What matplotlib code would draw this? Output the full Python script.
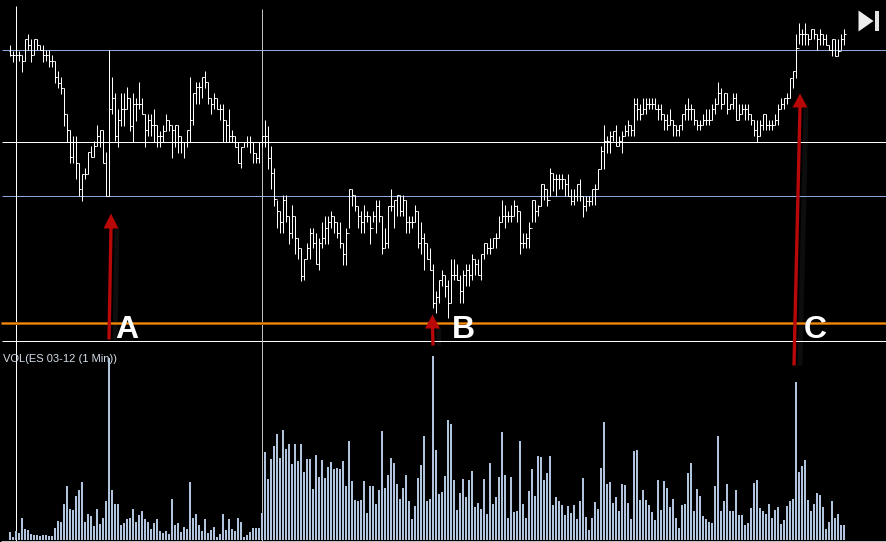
import matplotlib
matplotlib.use("Agg")
import matplotlib.pyplot as plt
from matplotlib.patches import Polygon

# Bar readings, on the chart's downward price scale (smaller value = higher on the chart)
high = [
44,50,50,50,54,38,33,38,38,38,44,44,49,49,54,60,70,76,87,113,
129,135,135,162,173,167,151,145,140,124,129,129,151,49,76,92,108,92,92,86,
97,92,97,81,97,113,113,113,108,124,130,124,113,119,124,124,124,135,141,129,
76,92,81,81,76,70,81,97,92,97,103,103,119,108,129,135,141,146,141,135,
135,141,152,141,135,119,125,145,167,
199,210,194,194,215,204,215,237,247,258,242,227,227,232,237,221,215,215,210,215,
221,221,242,227,188,188,194,205,210,204,210,215,210,199,199,215,227,205,188,199,
194,194,194,199,215,215,204,210,221,232,242,247,263,290,279,269,274,279,258,258,
263,274,269,263,263,253,258,258,253,242,242,237,237,232,215,199,204,210,204,199,
204,210,232,232,221,199,199,204,183,183,188,
167,172,173,173,173,178,173,188,188,183,178,195,195,195,188,183,168,145,124,135,
130,130,124,135,130,124,119,124,97,97,103,97,97,97,97,97,103,103,113,113,
108,119,124,124,113,103,97,103,108,119,119,113,108,108,103,97,81,87,92,92,
103,92,92,103,103,103,103,113,119,119,119,113,113,119,119,113,103,97,97,92,
77,70,33,22,28,22,33,28,28,33,28,33,33,44,38,38,38,33,28]

low = [
55,61,56,60,71,60,49,61,54,49,49,61,60,66,66,82,87,93,125,141,
162,162,178,195,200,178,173,156,156,145,146,162,195,195,113,140,146,125,125,108,
130,141,120,108,113,146,135,135,141,146,146,141,130,130,157,146,152,152,157,146,
141,124,103,103,97,87,103,113,108,108,119,141,141,141,141,146,162,167,146,146,
152,162,162,162,146,146,168,188,205,
227,232,232,221,243,237,253,258,280,279,258,258,247,263,269,247,243,243,227,232,
237,247,264,264,227,205,210,227,232,232,221,243,221,232,221,253,247,247,210,227,
215,215,215,232,232,227,221,247,253,269,258,269,307,312,302,285,296,317,302,279,
279,302,302,285,285,279,274,274,279,258,253,253,247,247,237,221,227,221,221,215,
221,253,247,247,247,221,221,215,205,199,205,
195,190,195,188,188,195,195,204,204,200,200,216,210,205,204,204,188,168,168,152,
152,140,145,145,152,135,135,135,135,119,119,113,113,108,108,108,119,119,129,129,
124,135,135,135,129,119,119,119,124,129,129,124,124,124,119,113,103,108,103,113,
108,108,119,119,113,119,119,124,135,141,135,129,129,129,129,124,124,108,108,103,
97,87,77,43,44,44,44,38,38,49,44,44,44,49,55,55,55,49,44]

close = [
54,54,54,54,60,38,44,54,38,44,49,54,54,60,60,76,82,87,113,129,
156,141,162,188,173,173,151,156,145,135,129,162,195,108,97,135,119,108,108,97,
125,103,103,103,113,129,119,124,124,135,135,130,119,124,129,124,135,141,141,129,
119,92,86,86,76,81,97,103,97,108,108,119,124,135,135,146,162,146,141,141,
141,152,157,141,135,135,157,172,198,
210,221,199,215,232,215,237,247,275,258,247,232,242,263,242,237,227,221,215,221,
232,242,253,232,188,194,205,215,221,215,215,227,215,205,215,247,242,205,205,199,
194,210,199,221,221,221,210,242,237,242,258,269,302,296,279,274,285,302,274,274,
279,290,274,269,274,258,263,274,253,242,247,247,237,237,221,215,215,215,215,205,
210,242,242,237,227,199,210,205,183,188,199,
172,178,178,178,178,183,195,200,195,183,195,205,200,200,188,188,168,150,140,140,
135,130,145,140,135,130,124,129,103,108,113,108,103,103,103,108,108,113,119,124,
119,124,129,124,113,108,108,108,119,124,124,119,119,119,108,103,92,103,92,108,
103,97,119,113,108,108,113,119,129,135,124,113,124,124,124,119,108,103,97,97,
77,70,47,33,33,33,38,28,33,38,33,38,44,49,38,55,50,38,33]

open_ = [
50,54,54,54,54,60,38,44,54,38,44,49,54,54,60,60,76,82,87,113,
129,156,141,162,188,173,173,151,156,145,135,129,162,195,108,97,135,119,108,108,
97,125,103,103,103,113,129,119,124,124,135,135,130,119,124,129,124,135,141,141,
129,119,92,86,86,76,81,97,103,97,108,108,119,124,135,135,146,162,146,141,
141,141,152,157,141,135,135,157,172,
198,210,221,199,215,232,215,237,247,275,258,247,232,242,263,242,237,227,221,215,
221,232,242,253,232,188,194,205,215,221,215,215,227,215,205,215,247,242,205,205,
199,194,210,199,221,221,221,210,242,237,242,258,269,302,296,279,274,285,302,274,
274,279,290,274,269,274,258,263,274,253,242,247,247,237,237,221,215,215,215,215,
205,210,242,242,237,227,199,210,205,183,188,
199,172,178,178,178,178,183,195,200,195,183,195,205,200,200,188,188,168,150,140,
140,135,130,145,140,135,130,124,129,103,108,113,108,103,103,103,108,108,113,119,
124,119,124,129,124,113,108,108,108,119,124,124,119,119,119,108,103,92,103,92,
108,103,97,119,113,108,108,113,119,129,135,124,113,124,124,124,119,108,103,97,
97,77,70,47,33,33,33,38,28,33,38,33,38,44,49,38,55,50,38]

volume = [
8,3,9,7,22,11,10,6,5,5,4,5,5,4,4,12,19,18,36,54,31,30,44,50,58,18,26,24,14,31,16,22,39,182,50,36,36,15,17,21,
22,31,18,25,29,21,18,11,17,21,9,7,9,6,41,15,17,8,13,11,58,22,26,15,9,21,7,10,13,3,6,26,10,21,11,9,22,18,3,5,
8,12,12,12,27,88,61,81,94,106,82,110,91,96,76,96,79,
96,68,81,81,51,85,63,80,62,73,78,71,72,71,79,54,99,59,40,39,40,59,27,54,54,36,50,109,52,65,82,77,56,41,52,65,39,21,34,62,
75,104,39,41,184,90,46,48,64,120,116,60,30,47,61,43,60,69,33,37,31,61,26,77,36,43,63,108,65,22,63,28,29,99,36,22,49,71,44,84,
83,60,67,84,35,43,39,35,25,34,27,35,21,39,62,23,10,22,38,
31,72,118,56,58,37,43,29,56,55,37,21,89,90,40,50,40,35,28,20,60,30,59,52,33,41,22,12,35,36,67,77,29,51,44,24,21,18,17,54,
104,29,39,56,29,29,50,25,25,15,17,32,57,60,32,29,26,36,22,30,33,16,20,34,39,41,158,68,74,80,40,29,36,47,45,33,11,18,39,22,
26,15,15]

W, H = 887, 542
BAR_STEP = 3.0      # pixels per bar
idx = list(range(len(high)))

fig = plt.figure(figsize=(W / 100, H / 100), dpi=100, facecolor="black")
ax = fig.add_axes([0, 0, 1, 1], facecolor="black")
ax.set_xlim(-10.5 / BAR_STEP, (W - 10.5) / BAR_STEP)   # bar index
ax.set_ylim(H - 0.5, -0.5)                             # downward price scale
ax.axis("off")

vol_ax = fig.add_axes([0, 0, 1, 1], facecolor="none")
vol_ax.set_xlim(-10 / BAR_STEP, (W - 10) / BAR_STEP)
vol_ax.set_ylim(-2, H - 2)
vol_ax.axis("off")


def xi(px):
    return (px - 10) / BAR_STEP


LW = 0.72  # one pixel
TICK = 0.5  # open / close tick reach, in bars
line_kw = dict(lw=LW, snap=True, solid_capstyle="butt")

# reference lines
for y, col in [(49, "#8aa6dc"), (141, "#ffffff"), (195, "#8aa6dc"), (340, "#ffffff")]:
    ax.plot([xi(1), xi(887)], [y, y], color=col, zorder=1, **line_kw)
ax.plot([xi(16), xi(16)], [5, 541], color="#ffffff", zorder=1, **line_kw)
ax.plot([xi(262), xi(262)], [8, 541], color="#c0c0c0", zorder=1, **line_kw)
ax.plot([xi(0), xi(887)], [540, 540], color="#c0c0c0", zorder=1, **line_kw)

# OHLC bars
ax.vlines(idx, high, low, color="white", lw=LW, snap=True, zorder=2)
ax.hlines(open_, [i - TICK for i in idx], idx, color="white", lw=LW, snap=True, zorder=2)
ax.hlines(close, idx, [i + TICK for i in idx], color="white", lw=LW, snap=True, zorder=2)

# volume
vol_ax.vlines(idx, 0, volume, color="#b0c4de", lw=LW * 2, snap=True, zorder=2)
vol_ax.set_zorder(ax.get_zorder() + 1)

# orange support line
ax.plot([xi(0), xi(887)], [322, 322], color="#a85a00", lw=2.16, snap=True, solid_capstyle="butt", zorder=3)
ax.plot([xi(0), xi(887)], [322, 322], color="#f08c10", zorder=3, **line_kw)

# arrows
RED = "#b80808"


def arrow(x0, y0, x1, y1, head_w, head_l):
    ax.plot([xi(x0 + 6), xi(x1 + 6)], [y0, y1 + head_l], color="#0d0d0d", lw=3.5, solid_capstyle="butt", zorder=0.5)
    ax.plot([xi(x0), xi(x1)], [y0, y1 + head_l - 1], color=RED, lw=2.4, solid_capstyle="butt", zorder=4)
    ax.add_patch(Polygon([[xi(x1), y1], [xi(x1 - head_w / 2), y1 + head_l], [xi(x1 + head_w / 2), y1 + head_l]],
                         closed=True, facecolor=RED, edgecolor="none", zorder=4))


arrow(108.5, 339, 110.5, 213, 15, 15)
arrow(432.5, 345, 432, 314, 15, 14)
arrow(793.5, 365, 799.5, 93, 15, 14)

# letters
for px, py, s in [(115, 337, "A"), (451, 337, "B"), (803, 337, "C")]:
    ax.text(xi(px), py, s, color="white", fontsize=23, fontweight="bold",
            family="Liberation Sans", ha="left", va="baseline", zorder=5)

ax.text(xi(3), 362, "VOL(ES 03-12 (1 Min))", color="#d4deea", fontsize=8.0,
        family="Liberation Sans", ha="left", va="baseline", zorder=5)

# skip-to-end icon
ax.add_patch(Polygon([[xi(858), 10], [xi(858), 31], [xi(873), 20.5]], closed=True,
                     facecolor="#eeeeee", edgecolor="none", zorder=5))
ax.add_patch(Polygon([[xi(875), 10], [xi(879), 10], [xi(879), 30], [xi(875), 30]], closed=True,
                     facecolor="#e4e4e4", edgecolor="none", zorder=5))

fig.savefig("out.png", dpi=100, facecolor="black")
